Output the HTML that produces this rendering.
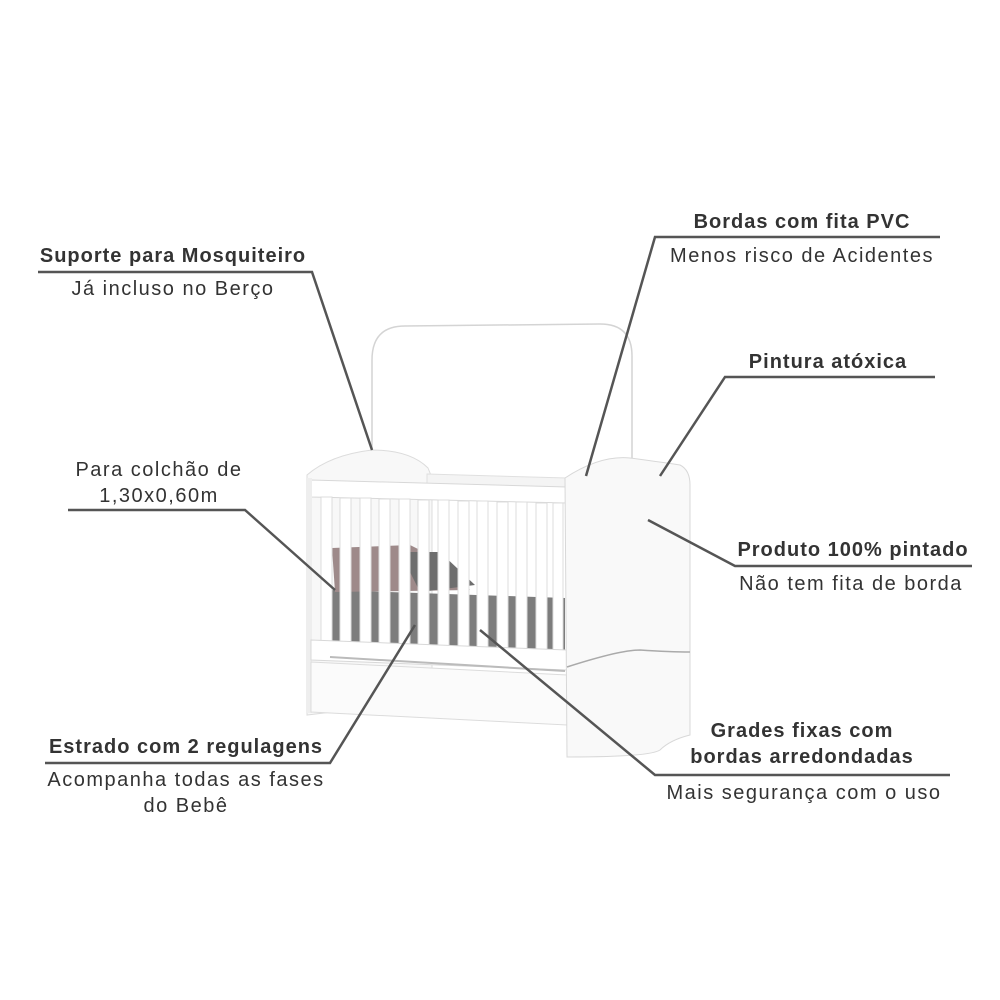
<!DOCTYPE html>
<html><head><style>
html,body{margin:0;padding:0;background:#fff;}
svg{display:block}
text{font-family:"Liberation Sans",sans-serif;fill:#333;font-size:20px;text-anchor:middle;letter-spacing:1.5px}
.b{font-weight:bold;letter-spacing:1px}
</style></head><body>
<svg width="1000" height="1000" viewBox="0 0 1000 1000">
<!-- canopy -->
<path d="M372,452 L372,360 Q372,326 405,326 L600,324 Q632,324 632,356 L632,470" fill="none" stroke="#d4d4d4" stroke-width="1.5"/>
<!-- left headboard -->
<path d="M307,475 Q330,455 372,450 Q410,450 428,468 L432,478 L432,700 L307,715 Z" fill="#f8f8f8" stroke="#dcdcdc"/>
<!-- back rail -->
<path d="M427,474 L567,478 L567,490 L427,486Z" fill="#f4f4f4" stroke="#e0e0e0"/>
<!-- mattress & pillows -->
<path d="M330,590 L565,598 L565,670 L330,655Z" fill="#7d7d7d"/>
<path d="M332,548 L410,545 L450,565 L470,590 L335,592Z" fill="#9e8a8a"/>
<path d="M400,552 L440,552 L475,585 L420,592Z" fill="#6e6e6e"/>
<!-- top rail -->
<path d="M311,480 L567,487 L567,503 L311,497Z" fill="#fff" stroke="#d8d8d8"/>
<!-- slats -->
<g fill="#fff" stroke="#dcdcdc">
<rect x="321" y="497" width="11" height="146"/>
<rect x="340" y="498" width="11" height="146"/>
<rect x="360" y="498" width="11" height="147"/>
<rect x="379" y="499" width="11" height="147"/>
<rect x="399" y="499" width="11" height="148"/>
<rect x="418" y="500" width="11" height="148"/>
<rect x="438" y="500" width="11" height="149"/>
<rect x="458" y="501" width="11" height="149"/>
<rect x="477" y="501" width="11" height="150"/>
<rect x="497" y="502" width="11" height="150"/>
<rect x="516" y="502" width="11" height="151"/>
<rect x="536" y="503" width="11" height="151"/>
<rect x="553" y="503" width="10" height="152"/>
</g>
<rect x="307" y="478" width="5" height="235" fill="#eee"/>
<!-- bottom rails -->
<path d="M311,640 L567,650 L567,670 L311,660Z" fill="#fff" stroke="#d8d8d8"/>
<path d="M311,662 L567,675 L567,725 L311,712Z" fill="#fbfbfb" stroke="#dcdcdc"/>
<path d="M330,657 L565,671" stroke="#bbb" stroke-width="2"/>
<!-- right panel -->
<path d="M565,478 Q600,455 630,458 Q660,462 680,465 Q690,470 690,485 L690,735 Q670,740 660,750 Q650,757 567,757 Z" fill="#f9f9f9" stroke="#d8d8d8"/>
<path d="M567,667 Q620,650 640,650 Q670,652 690,652" fill="none" stroke="#aaa" stroke-width="1.5"/>
<!-- leader lines -->
<g stroke="#555" stroke-width="2.5" fill="none">
<polyline points="38,272 312,272 372,450"/>
<polyline points="940,237 655,237 586,476"/>
<polyline points="935,377 725,377 660,476"/>
<polyline points="972,566 735,566 648,520"/>
<polyline points="68,510 245,510 335,590"/>
<polyline points="45,763 330,763 415,625"/>
<polyline points="950,775 655,775 480,630"/>
</g>
<!-- texts -->
<text x="173" y="262" class="b">Suporte para Mosquiteiro</text>
<text x="173" y="295">Já incluso no Berço</text>
<text x="802" y="228" class="b">Bordas com fita PVC</text>
<text x="802" y="262">Menos risco de Acidentes</text>
<text x="828" y="368" class="b">Pintura atóxica</text>
<text x="853" y="556" class="b">Produto 100% pintado</text>
<text x="851" y="590">Não tem fita de borda</text>
<text x="159" y="476">Para colchão de</text>
<text x="159" y="502">1,30x0,60m</text>
<text x="186" y="753" class="b">Estrado com 2 regulagens</text>
<text x="186" y="786">Acompanha todas as fases</text>
<text x="186" y="812">do Bebê</text>
<text x="802" y="737" class="b">Grades fixas com</text>
<text x="802" y="763" class="b">bordas arredondadas</text>
<text x="804" y="799">Mais segurança com o uso</text>
</svg>
</body></html>
